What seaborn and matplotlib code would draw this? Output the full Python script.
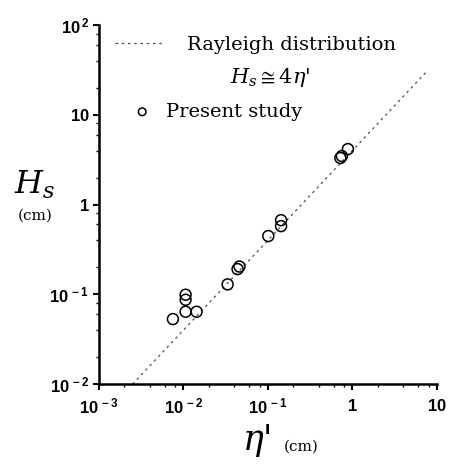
import matplotlib
matplotlib.use("Agg")
import matplotlib.pyplot as plt
import seaborn as sns
from matplotlib.ticker import FixedLocator, FixedFormatter, LogLocator, NullFormatter

# Measured significant wave height vs. rms surface elevation
eta = [0.0075, 0.0106, 0.0106, 0.0106, 0.0143, 0.0333, 0.0437, 0.046,
       0.101, 0.143, 0.143, 0.72, 0.75, 0.885]
hs = [0.053, 0.099, 0.087, 0.064, 0.064, 0.129, 0.191, 0.204,
      0.446, 0.575, 0.67, 3.3, 3.47, 4.15]

# Rayleigh relation Hs = 4 eta'
ray_eta = [0.0025, 7.5]
ray_hs = [4 * e for e in ray_eta]

x_ticks = [1e-3, 1e-2, 1e-1, 1, 10]
x_labels = [r"$\mathbf{10^{\,-3}}$", r"$\mathbf{10^{\,-2}}$", r"$\mathbf{10^{\,-1}}$",
            r"$\mathbf{1}$", r"$\mathbf{10}$"]
y_ticks = [1e-2, 1e-1, 1, 10, 100]
y_labels = [r"$\mathbf{10^{\,-2}}$", r"$\mathbf{10^{\,-1}}$", r"$\mathbf{1}$",
            r"$\mathbf{10}$", r"$\mathbf{10^{\,2}}$"]

sns.set_style("ticks")
plt.rcParams["font.family"] = ["DejaVu Serif"]
plt.rcParams["text.color"] = "black"
plt.rcParams["mathtext.fontset"] = "custom"
plt.rcParams["mathtext.rm"] = "DejaVu Serif"
plt.rcParams["mathtext.it"] = "DejaVu Serif:italic"
plt.rcParams["mathtext.bf"] = "Liberation Sans:bold"

fig = plt.figure(figsize=(4.49, 4.69), dpi=100)
ax = fig.add_axes([0.2205, 0.181, 0.7525, 0.7657])

sns.lineplot(x=ray_eta, y=ray_hs, ax=ax, color="0.3", linewidth=0.9,
             linestyle=(0, (2, 3)), label="Rayleigh distribution")
sns.scatterplot(x=eta, y=hs, ax=ax, marker="o", s=62, facecolor="none",
                edgecolor="black", linewidth=1.1, label="Present study",
                zorder=3)

ax.set_xscale("log")
ax.set_yscale("log")
ax.set_xlim(1e-3, 10)
ax.set_ylim(1e-2, 100)

ax.xaxis.set_major_locator(FixedLocator(x_ticks))
ax.xaxis.set_major_formatter(FixedFormatter(x_labels))
ax.yaxis.set_major_locator(FixedLocator(y_ticks))
ax.yaxis.set_major_formatter(FixedFormatter(y_labels))
for axis in (ax.xaxis, ax.yaxis):
    axis.set_minor_locator(LogLocator(base=10, subs=(2, 4, 6, 8)))
    axis.set_minor_formatter(NullFormatter())

ax.tick_params(which="major", direction="out", length=4, width=1.5,
               labelsize=12, color="black", labelcolor="black")
ax.tick_params(which="minor", direction="out", length=2.5, width=1.0,
               color="black")
ax.tick_params(axis="x", which="major", pad=6)
ax.tick_params(axis="y", which="major", pad=3)

sns.despine(ax=ax)
for side in ("left", "bottom"):
    ax.spines[side].set_linewidth(1.8)
    ax.spines[side].set_color("black")

# Legend: one block per entry so each sits where it belongs
handles, labels = ax.get_legend_handles_labels()
ax.get_legend().remove()
leg1 = ax.legend([handles[0]], [labels[0]], loc="center left",
                 bbox_to_anchor=(0.047, 0.944), frameon=False, fontsize=14,
                 handlelength=2.42, handletextpad=1.29, borderpad=0,
                 borderaxespad=0, labelcolor="black")
ax.add_artist(leg1)
ax.legend([handles[1]], [labels[1]], loc="center left",
          bbox_to_anchor=(0.099, 0.758), frameon=False, fontsize=14,
          handlelength=1.0, handletextpad=0.72, borderpad=0, borderaxespad=0,
          markerscale=0.7, labelcolor="black")
ax.text(0.506, 0.855, r"$H_s \cong 4\eta$'", transform=ax.transAxes,
        fontsize=15, ha="center", va="center", color="black")

# Axis titles
fig.text(0.078, 0.605, r"$H_s$", fontsize=23, ha="center", va="center")
fig.text(0.078, 0.54, "(cm)", fontsize=11, ha="center", va="center")
fig.text(0.575, 0.062, "\u03b7'", fontsize=25, style="italic",
         ha="center", va="center")
fig.text(0.67, 0.047, "(cm)", fontsize=11, ha="center", va="center")

fig.savefig("out.png", dpi=100)
